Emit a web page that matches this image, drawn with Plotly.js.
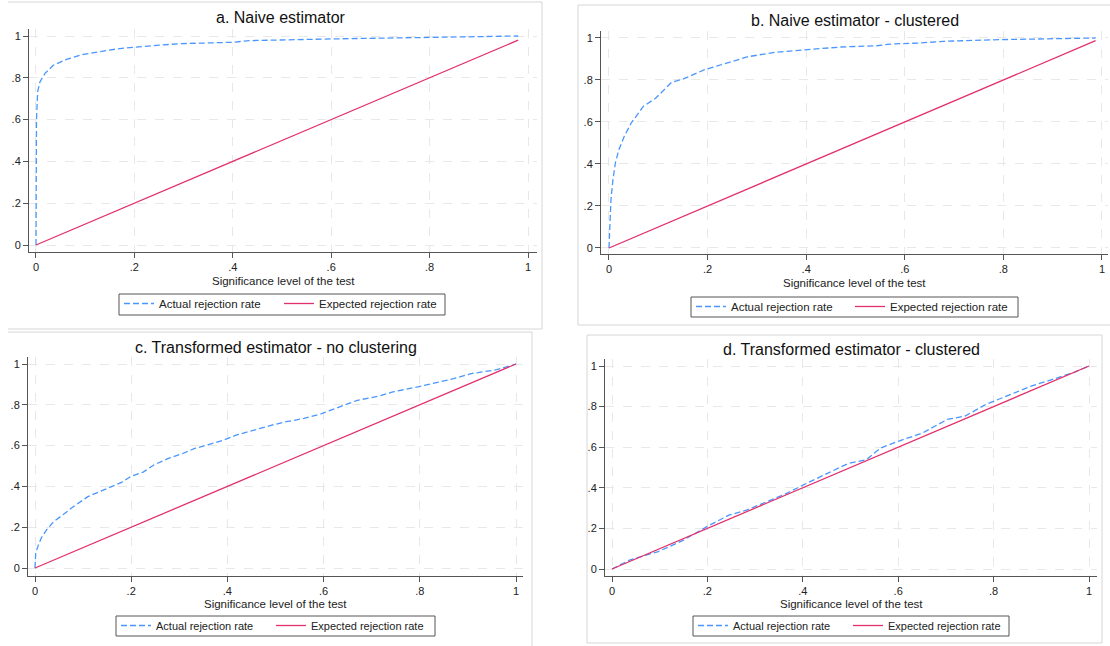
<!DOCTYPE html>
<html>
<head>
<meta charset="utf-8">
<script src="https://cdn.plot.ly/plotly-3.0.1.min.js"></script>
<style>html,body{margin:0;padding:0;background:#fff;}#chart{width:1110px;height:646px;}</style>
</head>
<body>
<div id="chart"></div>
<script>
// ---------- data ----------
const panelTitles = ["a. Naive estimator", "b. Naive estimator - clustered",
  "c. Transformed estimator - no clustering", "d. Transformed estimator - clustered"];
const xAxisTitle = "Significance level of the test";
const seriesNames = ["Actual rejection rate", "Expected rejection rate"];
const tickVals = [0, 0.2, 0.4, 0.6, 0.8, 1];
const tickText = ["0", ".2", ".4", ".6", ".8", "1"];

// a. Naive estimator
const aSig = [0, 0.0005, 0.001, 0.0034, 0.008, 0.018, 0.035, 0.062, 0.096, 0.13, 0.164, 0.197, 0.245, 0.29, 0.4, 0.435, 0.6, 0.8, 0.98];
const aActual = [0, 0.3, 0.6, 0.733, 0.78, 0.82, 0.86, 0.888, 0.912, 0.925, 0.938, 0.946, 0.954, 0.963, 0.97, 0.978, 0.986, 0.995, 1.0];
const aExpSig = [0, 0.98];
const aExpected = [0, 0.98];

// b. Naive estimator - clustered
const bSig = [0, 0.002, 0.004, 0.008, 0.013, 0.02, 0.031, 0.045, 0.07, 0.095, 0.127, 0.151, 0.194, 0.244, 0.28, 0.336, 0.40, 0.47, 0.543, 0.571, 0.628, 0.678, 0.79, 0.898, 0.987];
const bActual = [0, 0.103, 0.23, 0.325, 0.405, 0.468, 0.532, 0.595, 0.675, 0.714, 0.789, 0.805, 0.849, 0.884, 0.91, 0.932, 0.944, 0.957, 0.963, 0.971, 0.976, 0.984, 0.992, 0.995, 1.0];
const bExpSig = [0, 0.987];
const bExpected = [0, 0.987];

// c. Transformed estimator - no clustering
const cSig = [0, 0.0015, 0.006, 0.013, 0.024, 0.039, 0.058, 0.08, 0.11, 0.136, 0.151, 0.18, 0.2, 0.225, 0.247, 0.277, 0.306, 0.332, 0.358, 0.392, 0.418, 0.455, 0.492, 0.522, 0.559, 0.596, 0.633, 0.67, 0.714, 0.744, 0.796, 0.84, 0.87, 0.907, 0.96, 1.0];
const cActual = [0, 0.073, 0.106, 0.147, 0.187, 0.228, 0.261, 0.301, 0.35, 0.375, 0.391, 0.42, 0.45, 0.47, 0.505, 0.537, 0.56, 0.586, 0.603, 0.627, 0.651, 0.676, 0.70, 0.717, 0.733, 0.757, 0.79, 0.822, 0.842, 0.863, 0.888, 0.912, 0.928, 0.953, 0.972, 1.0];
const cExpSig = [0, 1];
const cExpected = [0, 1];

// d. Transformed estimator - clustered
const dSig = [0, 0.038, 0.097, 0.149, 0.2, 0.245, 0.282, 0.319, 0.363, 0.408, 0.452, 0.496, 0.533, 0.563, 0.6, 0.651, 0.703, 0.74, 0.784, 0.829, 0.88, 0.925, 0.969, 1.0];
const dActual = [0, 0.045, 0.086, 0.141, 0.21, 0.265, 0.29, 0.326, 0.369, 0.422, 0.472, 0.521, 0.538, 0.596, 0.629, 0.67, 0.737, 0.753, 0.811, 0.853, 0.902, 0.935, 0.969, 1.0];
const dExpSig = [0, 1];
const dExpected = [0, 1];

// ---------- layout helpers ----------
const W = 1110, H = 646;
const px = v => v / W;
const py = v => 1 - v / H;
const FONT = "Liberation Sans, Arial, Helvetica, sans-serif";
const BLUE = "#4a96ff", RED = "#e2306a";

const panels = [
  {sig: aSig, act: aActual, es: aExpSig, ex: aExpected,
   dom: [29, 537, 29, 252], xr: [-0.0142, 1.0183], yr: [-0.0335, 1.0335],
   titleX: 281, titleY: 18, axTitleY: 281, box: [119, 294, 445, 315], ew: 115, lf: 11.5},
  {sig: bSig, act: bActual, es: bExpSig, ex: bExpected,
   dom: [601, 1108, 31, 254], xr: [-0.0162, 1.0122], yr: [-0.0286, 1.0333],
   titleX: 855, titleY: 20, axTitleY: 283, box: [691, 297, 1018, 317], ew: 114, lf: 11.5},
  {sig: cSig, act: cActual, es: cExpSig, ex: cExpected,
   dom: [28, 523, 357, 576], xr: [-0.01455, 1.01455], yr: [-0.0392, 1.0343],
   titleX: 276, titleY: 347, axTitleY: 604, box: [116, 616, 435, 636], ew: 110, lf: 11},
  {sig: dSig, act: dActual, es: dExpSig, ex: dExpected,
   dom: [605, 1097, 359, 576], xr: [-0.01468, 1.01677], yr: [-0.0345, 1.0345],
   titleX: 851, titleY: 349, axTitleY: 604, box: [693, 616, 1009, 636], ew: 110, lf: 11}
];

const traces = [];
const layout = {
  width: W, height: H, autosize: false,
  margin: {l: 0, r: 0, t: 0, b: 0, pad: 0},
  paper_bgcolor: "#fff", plot_bgcolor: "#fff",
  font: {family: FONT, size: 11, color: "#222"},
  showlegend: true,
  annotations: [], shapes: []
};

panels.forEach((p, i) => {
  const n = i === 0 ? "" : String(i + 1);
  const xa = "x" + n, ya = "y" + n;
  const lg = "legend" + n;
  traces.push({
    x: p.sig, y: p.act, type: "scatter", mode: "lines", name: seriesNames[0],
    xaxis: xa, yaxis: ya, legend: lg,
    line: {color: BLUE, width: 1.3, dash: "6px,3px"}, hoverinfo: "skip"
  });
  traces.push({
    x: p.es, y: p.ex, type: "scatter", mode: "lines", name: seriesNames[1],
    xaxis: xa, yaxis: ya, legend: lg,
    line: {color: RED, width: 1.3}, hoverinfo: "skip"
  });
  const common = {
    showline: true, linecolor: "#555", linewidth: 1,
    ticks: "outside", ticklen: 5, tickcolor: "#555", tickwidth: 1,
    showgrid: true, gridcolor: "#e8e8e8", griddash: "dash", gridwidth: 1,
    zeroline: false, tickmode: "array", tickvals: tickVals, ticktext: tickText,
    tickfont: {family: FONT, size: 11, color: "#222"}, fixedrange: true
  };
  layout["xaxis" + n] = Object.assign({}, common, {
    domain: [px(p.dom[0]), px(p.dom[1])], range: p.xr, anchor: ya
  });
  layout["yaxis" + n] = Object.assign({}, common, {
    domain: [py(p.dom[3]), py(p.dom[2])], range: p.yr, anchor: xa
  });
  layout[lg] = {
    orientation: "h", x: px(p.box[0]), y: py(p.box[1] - 5),
    xanchor: "left", yanchor: "top", xref: "paper", yref: "paper",
    borderwidth: 0, bgcolor: "rgba(0,0,0,0)",
    font: {family: FONT, size: p.lf, color: "#222"},
    itemwidth: 30, traceorder: "normal", entrywidth: p.ew,
    itemclick: false, itemdoubleclick: false
  };
  // legend frame
  layout.shapes.push({type: "rect", xref: "paper", yref: "paper",
    x0: px(p.box[0]), x1: px(p.box[2]), y0: py(p.box[3]), y1: py(p.box[1]),
    line: {color: "#555", width: 1}, fillcolor: "rgba(0,0,0,0)", layer: "above"});
  layout.annotations.push({
    text: panelTitles[i], xref: "paper", yref: "paper",
    x: px(p.titleX), y: py(p.titleY), xanchor: "center", yanchor: "middle",
    showarrow: false, font: {family: FONT, size: 16, color: "#111"}
  });
  layout.annotations.push({
    text: xAxisTitle, xref: "paper", yref: "paper",
    x: px((p.dom[0] + p.dom[1]) / 2), y: py(p.axTitleY), xanchor: "center", yanchor: "middle",
    showarrow: false, font: {family: FONT, size: 11.5, color: "#222"}
  });
});

// panel frames (light gray)
const frame = (x0, y0, x1, y1) => ({type: "line", xref: "paper", yref: "paper",
  x0: px(x0), y0: py(y0), x1: px(x1), y1: py(y1), line: {color: "#d6d6d6", width: 1}, layer: "below"});
layout.shapes.push(
  // a
  frame(8, 2, 542, 2), frame(542, 2, 542, 329), frame(8, 329, 542, 329),
  // b
  frame(578, 5, 1110, 5), frame(578, 5, 578, 325), frame(578, 325, 1110, 325),
  // c
  frame(8, 332, 532, 332), frame(532, 332, 532, 646),
  // d
  frame(587, 335, 1102, 335), frame(587, 335, 587, 643), frame(587, 643, 1102, 643), frame(1102, 335, 1102, 643)
);

Plotly.newPlot("chart", traces, layout, {staticPlot: true, displayModeBar: false});
</script>
</body>
</html>
